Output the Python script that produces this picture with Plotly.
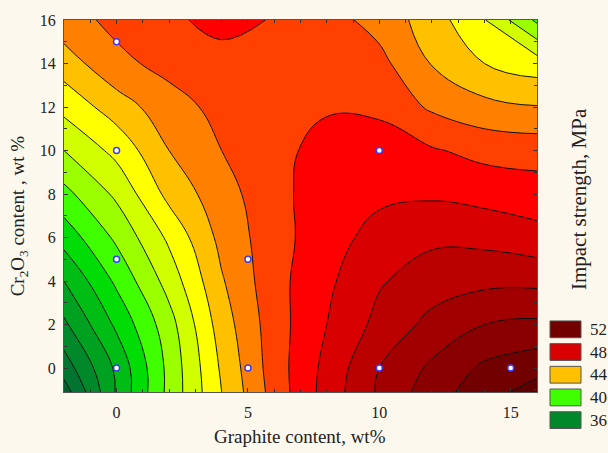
import plotly.graph_objects as go

# ---- data ----
graphite = [-2, 0, 2, 4, 6, 8, 10, 12, 14, 16]
cr2o3 = [-1.1, 0, 2, 4, 6, 8, 10, 12, 14, 16]

z_ym1 = [34.5, 38.1, 41.3, 44.0, 46.4, 48.4, 50.15, 51.55, 52.55, 53.5]
z_y0 = [35.45, 38.2, 41.3, 44.15, 46.5, 48.3, 50.0, 51.2, 52.2, 52.65]
z_y2 = [36.8, 39.2, 41.6, 44.5, 46.55, 48.0, 49.3, 50.3, 51.0, 51.2]
z_y4 = [38.0, 40.2, 42.4, 44.9, 46.65, 47.8, 48.9, 49.5, 49.75, 49.75]
z_y6 = [39.4, 41.2, 43.2, 45.3, 46.6, 47.6, 48.35, 48.8, 48.7, 48.35]
z_y8 = [40.7, 42.2, 44.3, 45.6, 46.65, 47.6, 47.8, 47.85, 47.65, 47.45]
z_y10 = [42.0, 43.3, 45.0, 46.0, 46.7, 47.35, 47.6, 47.1, 46.7, 46.6]
z_y12 = [43.3, 44.5, 45.6, 46.3, 46.7, 46.9, 46.75, 45.85, 45.3, 45.05]
z_y14 = [44.5, 45.75, 46.3, 46.7, 46.85, 46.6, 46.3, 44.95, 44.0, 43.5]
z_y16 = [45.6, 46.25, 46.85, 47.25, 46.95, 46.4, 45.63, 44.5, 43.05, 40.8]

pts_x = [0, 0, 0, 0, 5, 5, 10, 10, 15]
pts_y = [0, 5, 10, 15, 0, 5, 0, 10, 0]

x_tick_vals = [0, 5, 10, 15]
y_tick_vals = [0, 2, 4, 6, 8, 10, 12, 14, 16]

legend_levels = [52, 48, 44, 40, 36]

level_start, level_end, level_step = 34, 53, 1
band_colors = [
    "#004a28", "#00612f", "#007430", "#00882a", "#00a020", "#00bd15",
    "#00dc05", "#40ff00", "#9cff00", "#d2ff00", "#ffff00", "#ffc000",
    "#ff8000", "#ff4000", "#ff0000", "#d80000", "#bb0000", "#a20000",
    "#8a0000", "#720000", "#5c0000",
]

# ---- figure ----
z = [z_ym1, z_y0, z_y2, z_y4, z_y6, z_y8, z_y10, z_y12, z_y14, z_y16]
n = len(band_colors) - 1
colorscale = [[i / n, c] for i, c in enumerate(band_colors)]

FONT = "Liberation Serif, Times New Roman, serif"
W, H = 608, 453
L, R, T, B = 64, 537, 15, 392


def px_x(px):
    return (px - L) / (R - L)


def px_y(py):
    return (B - py) / (B - T)


fig = go.Figure()
fig.add_trace(go.Contour(
    x=graphite, y=cr2o3, z=z,
    autocontour=False,
    contours=dict(start=level_start, end=level_end, size=level_step, coloring="fill"),
    colorscale=colorscale,
    showscale=False,
    line=dict(color="#111111", width=1, smoothing=1.2),
    hoverinfo="skip",
))
fig.add_trace(go.Scatter(
    x=pts_x, y=pts_y, mode="markers",
    marker=dict(symbol="circle", size=6, color="white",
                line=dict(color="#3a3aff", width=1.5)),
    showlegend=False, hoverinfo="skip",
))

axis_common = dict(
    showline=True, linecolor="#555555", linewidth=1, mirror="ticks",
    ticks="inside", ticklen=4, tickcolor="#333333",
    showgrid=False, zeroline=False,
    tickfont=dict(family=FONT, size=16, color="#222222"),
    minor=dict(dtick=1, ticks="inside", ticklen=3, tickcolor="#333333", showgrid=False),
)

fig.update_xaxes(range=[-2, 16], tickmode="array", tickvals=x_tick_vals,
                 ticklabelstandoff=6, **axis_common)
fig.update_yaxes(range=[-1.1, 16], tickmode="array", tickvals=y_tick_vals,
                 ticklabelstandoff=4, **axis_common)

annotations = [
    dict(text="Graphite content, wt%", x=px_x(300), y=px_y(437),
         font=dict(family=FONT, size=19, color="#222222")),
    dict(text="Cr<sub>2</sub>O<sub>3</sub> content , wt %", x=px_x(19), y=px_y(214),
         textangle=-90, font=dict(family=FONT, size=19, color="#222222")),
    dict(text="Impact strength, MPa", x=px_x(579), y=px_y(196.5),
         textangle=-90, font=dict(family=FONT, size=21, color="#222222")),
]

shapes = []
box_top0, box_pitch, box_h = 320, 23, 17
for i, lev in enumerate(legend_levels):
    top = box_top0 + i * box_pitch
    col = band_colors[(lev - level_start) // level_step + 1]
    shapes.append(dict(type="rect", xref="paper", yref="paper",
                       x0=px_x(550), x1=px_x(581), y0=px_y(top + box_h), y1=px_y(top),
                       fillcolor=col, line=dict(color="#555555", width=1)))
    annotations.append(dict(text=str(lev), x=px_x(588), y=px_y(top + box_h / 2),
                            xanchor="left", font=dict(family=FONT, size=17, color="#222222")))

for a in annotations:
    a.setdefault("xref", "paper")
    a.setdefault("yref", "paper")
    a.setdefault("showarrow", False)
    a.setdefault("xanchor", "center")
    a.setdefault("yanchor", "middle")

fig.update_layout(
    width=W, height=H,
    margin=dict(l=L, r=W - R, t=T, b=H - B),
    paper_bgcolor="#fdf8ee",
    plot_bgcolor="#fdf8ee",
    annotations=annotations,
    shapes=shapes,
    showlegend=False,
)

fig.write_html(
    "out.html",
    config={"displayModeBar": False, "staticPlot": True},
    post_script="document.body.style.margin='0';document.body.style.overflow='hidden';",
)
